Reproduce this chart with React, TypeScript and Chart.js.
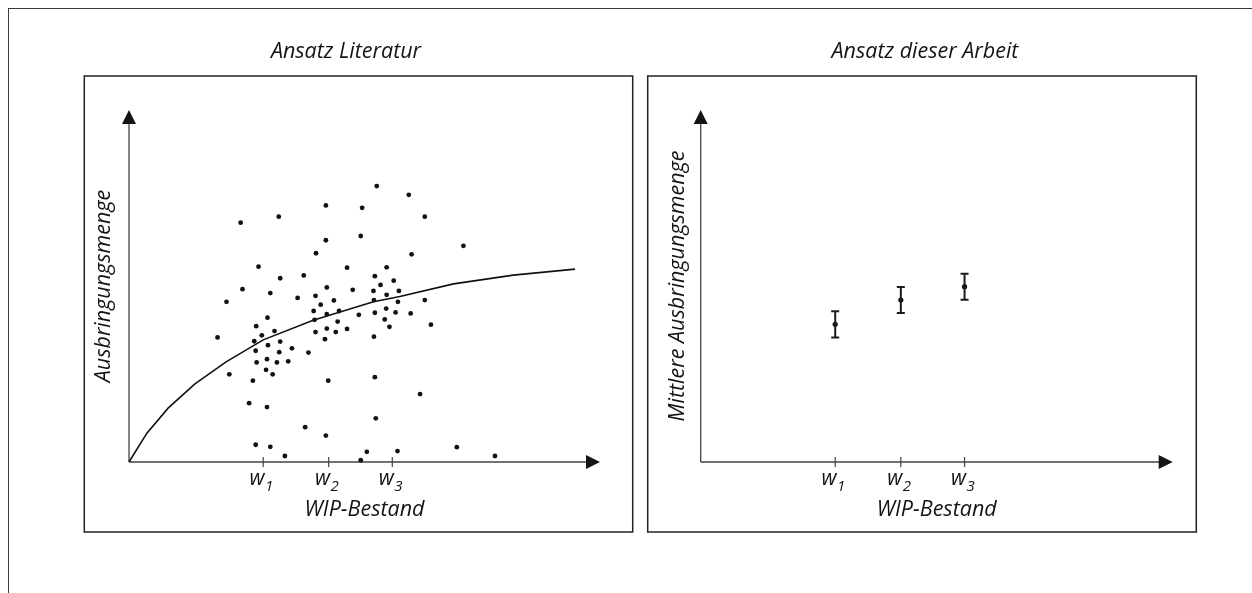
import React, { useEffect, useRef } from 'react';
import { Chart, registerables } from 'chart.js';
Chart.register(...registerables);

const FONT = '"Open Sans", "DejaVu Sans", sans-serif';
const INK = '#141414';

// ---------- data ----------
const scatterX = [
  52.6, 41.8, 49.5, 31.8, 23.7, 41.8, 49.2, 39.7, 27.5, 46.3,
  32.1, 37.1, 52.2, 24.1, 42.0, 47.5, 51.9, 30.0, 20.7, 35.8,
  39.6, 40.7, 43.5, 39.2, 44.6, 42.0, 48.8, 52.2, 52.0, 29.4,
  39.4, 44.3, 27.0, 30.9, 28.2, 39.6, 42.0, 43.9, 46.3, 18.8,
  26.6, 32.1, 41.6, 52.0, 29.5, 26.9, 31.9, 34.6, 38.1, 27.1,
  29.3, 31.4, 33.8, 29.1, 30.5, 21.3, 26.3, 42.3, 52.2, 25.5,
  29.3, 52.4, 37.4, 41.8, 26.9, 30.0, 33.1, 50.5, 49.2, 59.4,
  62.8, 71.0, 60.0, 54.7, 56.2, 53.4, 57.3, 54.7, 62.8, 57.1,
  54.6, 56.6, 59.8, 54.3, 64.1, 55.3, 61.8, 57.0, 69.6, 77.7,
];
const scatterY = [
  78.4, 72.9, 72.2, 69.7, 68.0, 63.0, 64.2, 59.3, 55.5, 55.2,
  52.2, 53.0, 52.8, 49.1, 49.6, 48.9, 48.6, 48.0, 45.5, 46.6,
  47.2, 44.7, 45.9, 42.9, 42.9, 42.0, 41.8, 42.4, 46.0, 41.0,
  40.4, 39.9, 38.6, 37.2, 36.0, 36.9, 37.9, 36.9, 37.8, 35.4,
  34.3, 34.2, 34.9, 35.6, 33.2, 31.6, 31.2, 32.3, 31.1, 28.3,
  29.2, 28.3, 28.6, 26.2, 24.9, 24.9, 23.1, 23.1, 24.1, 16.7,
  15.6, 12.4, 9.9, 7.5, 4.9, 4.3, 1.7, 2.9, 0.5, 75.9,
  69.7, 61.4, 59.0, 55.3, 51.5, 50.3, 48.6, 47.5, 46.0, 45.5,
  43.6, 42.5, 42.2, 40.5, 39.0, 38.4, 19.3, 3.1, 4.2, 1.7,
];
const curveX = [0, 3.8, 8.3, 14.0, 20.7, 28.5, 39.1, 51.9, 57.5, 68.9, 81.6, 94.7];
const curveY = [0, 8.2, 15.3, 22.2, 28.5, 34.7, 40.3, 45.5, 47.0, 50.6, 53.1, 54.8];

const wTicks = [28.5, 42.4, 55.9];
const wTickBase = 'w';
const wTickSubs = ['1', '2', '3'];

const meanVals = [39.1, 46.0, 49.8];
const errVals = [3.7, 3.7, 3.7];

const leftTitle = 'Ansatz Literatur';
const rightTitle = 'Ansatz dieser Arbeit';
const leftYTitle = 'Ausbringungsmenge';
const rightYTitle = 'Mittlere Ausbringungsmenge';
const xTitle = 'WIP-Bestand';

// ---------- panel drawing plugin ----------
type PanelOpts = {
  box: [number, number, number, number];
  title: string;
  titleX: number;
  yTitle: string;
  yTitleX: number;
  errorBars?: boolean;
};

function makePanelPlugin(o: PanelOpts) {
  return {
    id: 'panelDecor',
    beforeDatasetsDraw(chart: any) {
      const ctx: CanvasRenderingContext2D = chart.ctx;
      const xs = chart.scales.x;
      const ys = chart.scales.y;
      const ox = xs.getPixelForValue(0);
      const oy = ys.getPixelForValue(0);
      const xEnd = xs.getPixelForValue(100);
      const yEnd = ys.getPixelForValue(100);
      ctx.save();
      // box
      ctx.strokeStyle = '#222';
      ctx.lineWidth = 1.5;
      ctx.strokeRect(o.box[0], o.box[1], o.box[2], o.box[3]);
      // axes
      ctx.strokeStyle = '#444';
      ctx.lineWidth = 1.3;
      ctx.beginPath();
      ctx.moveTo(ox, oy);
      ctx.lineTo(xEnd - 10, oy);
      ctx.moveTo(ox, oy);
      ctx.lineTo(ox, yEnd + 10);
      ctx.stroke();
      ctx.fillStyle = INK;
      ctx.beginPath();
      ctx.moveTo(xEnd, oy);
      ctx.lineTo(xEnd - 14, oy - 7);
      ctx.lineTo(xEnd - 14, oy + 7);
      ctx.closePath();
      ctx.fill();
      ctx.beginPath();
      ctx.moveTo(ox, yEnd);
      ctx.lineTo(ox - 7, yEnd + 14);
      ctx.lineTo(ox + 7, yEnd + 14);
      ctx.closePath();
      ctx.fill();
      // ticks
      ctx.strokeStyle = '#444';
      ctx.lineWidth = 1.2;
      wTicks.forEach((w) => {
        const px = xs.getPixelForValue(w);
        ctx.beginPath();
        ctx.moveTo(px, oy - 5);
        ctx.lineTo(px, oy + 5);
        ctx.stroke();
      });
      // tick labels
      ctx.fillStyle = INK;
      ctx.textBaseline = 'alphabetic';
      ctx.textAlign = 'left';
      wTicks.forEach((w, i) => {
        const px = xs.getPixelForValue(w);
        ctx.font = `italic 21px ${FONT}`;
        const ww = ctx.measureText(wTickBase).width;
        ctx.font = `italic 15px ${FONT}`;
        const sw = ctx.measureText(wTickSubs[i]).width;
        const sx = px - 2 - (ww + sw) / 2;
        ctx.font = `italic 21px ${FONT}`;
        ctx.fillText(wTickBase, sx, oy + 23);
        ctx.font = `italic 15px ${FONT}`;
        ctx.fillText(wTickSubs[i], sx + ww + 0.5, oy + 28.5);
      });
      // x title
      ctx.font = `italic 21.5px ${FONT}`;
      ctx.textAlign = 'center';
      ctx.fillText(xTitle, (ox + xEnd) / 2, oy + 54);
      // panel title
      ctx.fillText(o.title, o.titleX, 49.5);
      // y title
      ctx.save();
      ctx.translate(o.yTitleX, (oy + yEnd) / 2);
      ctx.rotate(-Math.PI / 2);
      ctx.fillText(o.yTitle, 0, 0);
      ctx.restore();
      ctx.restore();
    },
    afterDatasetsDraw(chart: any) {
      if (!o.errorBars) return;
      const ctx: CanvasRenderingContext2D = chart.ctx;
      const xs = chart.scales.x;
      const ys = chart.scales.y;
      ctx.save();
      ctx.strokeStyle = '#1c1c1c';
      ctx.lineWidth = 2;
      meanVals.forEach((m, i) => {
        const px = xs.getPixelForValue(wTicks[i]);
        const top = ys.getPixelForValue(m + errVals[i]);
        const bot = ys.getPixelForValue(m - errVals[i]);
        ctx.beginPath();
        ctx.moveTo(px, top);
        ctx.lineTo(px, bot);
        ctx.moveTo(px - 4, top);
        ctx.lineTo(px + 4, top);
        ctx.moveTo(px - 4, bot);
        ctx.lineTo(px + 4, bot);
        ctx.stroke();
      });
      ctx.restore();
    },
  };
}

function baseOptions(padding: any) {
  return {
    responsive: false,
    animation: false as const,
    layout: { padding },
    plugins: { legend: { display: false }, tooltip: { enabled: false }, title: { display: false } },
    scales: {
      x: { type: 'linear' as const, min: 0, max: 100, display: false },
      y: { type: 'linear' as const, min: 0, max: 100, display: false },
    },
  };
}

function LeftPanel() {
  const ref = useRef<HTMLCanvasElement | null>(null);
  useEffect(() => {
    if (!ref.current) return;
    const chart = new Chart(ref.current, {
      type: 'scatter',
      data: {
        datasets: [
          {
            label: 'Messpunkte',
            data: scatterX.map((x, i) => ({ x, y: scatterY[i] })),
            pointRadius: 2.4,
            pointBackgroundColor: '#111',
            pointBorderWidth: 0,
            showLine: false,
            clip: false as any,
          },
          {
            label: 'Kennlinie',
            data: curveX.map((x, i) => ({ x, y: curveY[i] })),
            showLine: true,
            pointRadius: 0,
            borderColor: '#111',
            borderWidth: 1.6,
            tension: 0,
            clip: false as any,
          },
        ],
      },
      options: baseOptions({ left: 49, right: 40, top: 102, bottom: 86 }) as any,
      plugins: [
        makePanelPlugin({
          box: [4.3, 68, 548.4, 456],
          title: leftTitle,
          titleX: 266,
          yTitle: leftYTitle,
          yTitleX: 29.5,
        }),
      ],
    });
    return () => chart.destroy();
  }, []);
  return <canvas ref={ref} width={560} height={540} style={{ display: 'block', width: 560, height: 540 }} />;
}

function RightPanel() {
  const ref = useRef<HTMLCanvasElement | null>(null);
  useEffect(() => {
    if (!ref.current) return;
    const chart = new Chart(ref.current, {
      type: 'scatter',
      data: {
        datasets: [
          {
            label: 'Mittelwert',
            data: wTicks.map((x, i) => ({ x, y: meanVals[i] })),
            pointRadius: 2.6,
            pointBackgroundColor: '#111',
            pointBorderWidth: 0,
            showLine: false,
            clip: false as any,
          },
        ],
      },
      options: baseOptions({ left: 60.7, right: 79.3, top: 102, bottom: 86 }) as any,
      plugins: [
        makePanelPlugin({
          box: [7.7, 68, 548.6, 456],
          title: rightTitle,
          titleX: 285,
          yTitle: rightYTitle,
          yTitleX: 43.5,
          errorBars: true,
        }),
      ],
    });
    return () => chart.destroy();
  }, []);
  return <canvas ref={ref} width={612} height={540} style={{ display: 'block', width: 612, height: 540 }} />;
}

export default function App() {
  return (
    <div style={{ position: 'relative', width: 1244, height: 577, overflow: 'hidden' }}>
      <div
        style={{
          position: 'fixed',
          left: 8,
          top: 8,
          right: 0,
          bottom: 0,
          borderTop: '1px solid #3a3a3a',
          borderLeft: '1px solid #3a3a3a',
          pointerEvents: 'none',
        }}
      />
      <div style={{ position: 'absolute', left: 72, top: 0 }}>
        <LeftPanel />
      </div>
      <div style={{ position: 'absolute', left: 632, top: 0 }}>
        <RightPanel />
      </div>
    </div>
  );
}
